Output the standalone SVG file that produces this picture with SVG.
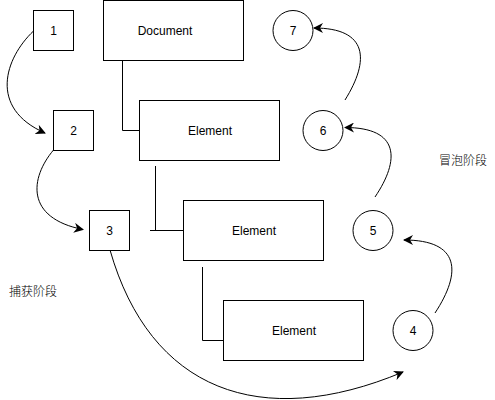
<svg xmlns="http://www.w3.org/2000/svg" width="495" height="400" viewBox="0 0 495 400">
<defs>
<marker id="arr" viewBox="0 0 10 10" refX="9" refY="5" markerWidth="10" markerHeight="10" markerUnits="userSpaceOnUse" orient="auto">
<path d="M0,0 L10,5 L0,10 L3,5 Z" fill="#000"/>
</marker>
<style>
.box{fill:#fff;stroke:#000;stroke-width:1}
.t{font-family:"Liberation Sans",Arial,sans-serif;font-size:12px;fill:#000;text-anchor:middle;dominant-baseline:central}
.cn{font-family:"Liberation Sans","Noto Sans CJK SC",sans-serif;font-size:12px;font-weight:300;fill:#000;text-anchor:middle;dominant-baseline:central}
.ln{fill:none;stroke:#000;stroke-width:1}
.ar{fill:none;stroke:#000;stroke-width:1;marker-end:url(#arr)}
</style>
</defs>
<rect width="495" height="400" fill="#fff"/>
<g id="connectors">
<path class="ln" d="M122.5,60 V130.5 H143"/>
<path class="ln" d="M155.5,166 V230.5 M150,230.5 H183"/>
<path class="ln" d="M202.5,267 V340.5 H223"/>
<path class="ar" d="M33.5,31 C5,58 -12,108 45,133"/>
<path class="ar" d="M53.5,150 C30,178 25,218 83,229.5"/>
<path class="ar" d="M110,250 C150,390 260,432 403,372"/>
<path class="ar" d="M435,313 C462,272 460,240 404,240"/>
<path class="ar" d="M375,197 C400,160 400,127.5 345,127.5"/>
<path class="ar" d="M345,100 C370,60 368,28 314,28"/>
</g>
<g id="n1"><rect class="box" x="33.5" y="10.5" width="40" height="40"/><text class="t" x="53.5" y="30.5">1</text></g>
<g id="n2"><rect class="box" x="53.5" y="110.5" width="40" height="40"/><text class="t" x="73.5" y="130.5">2</text></g>
<g id="n3"><rect class="box" x="89.5" y="210.5" width="40" height="40"/><text class="t" x="109.5" y="230.5">3</text></g>
<g id="doc"><rect class="box" x="103.5" y="0.5" width="140" height="60"/><text class="t" x="165" y="30.5">Document</text></g>
<g id="el1"><rect class="box" x="139.5" y="100.5" width="140" height="60"/><text class="t" x="210" y="130.5">Element</text></g>
<g id="el2"><rect class="box" x="183.5" y="200.5" width="140" height="60"/><text class="t" x="254" y="230.5">Element</text></g>
<g id="el3"><rect class="box" x="223.5" y="300.5" width="140" height="60"/><text class="t" x="294" y="330.5">Element</text></g>
<g id="n7"><circle class="box" cx="293" cy="30.5" r="20"/><text class="t" x="293" y="30.5">7</text></g>
<g id="n6"><circle class="box" cx="323" cy="130.5" r="20"/><text class="t" x="323" y="130.5">6</text></g>
<g id="n5"><circle class="box" cx="373" cy="230.5" r="20"/><text class="t" x="373" y="230.5">5</text></g>
<g id="n4"><circle class="box" cx="413" cy="330.5" r="20"/><text class="t" x="413" y="330.5">4</text></g>
<g id="lbl-capture"><text class="cn" x="33" y="292">捕获阶段</text></g>
<g id="lbl-bubble"><text class="cn" x="463" y="161">冒泡阶段</text></g>
</svg>
